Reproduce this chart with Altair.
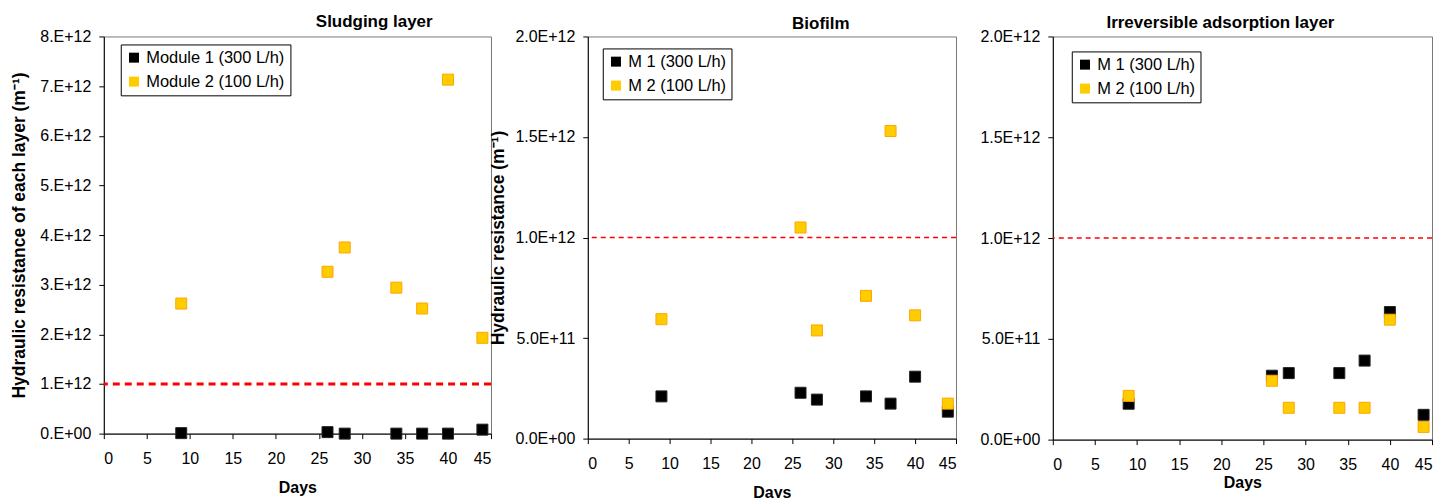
import json
import altair as alt
import pandas as pd

# ---------------- data ----------------
days = [9, 26, 28, 34, 37, 40, 44]

sludge_m1 = [0.01e12, 0.03e12, 0.0, 0.0, 0.0, 0.0, 0.08e12]
sludge_m2 = [2.62e12, 3.26e12, 3.75e12, 2.94e12, 2.52e12, 7.13e12, 1.93e12]

bio_m1 = [2.10e11, 2.28e11, 1.94e11, 2.10e11, 1.74e11, 3.08e11, 1.34e11]
bio_m2 = [5.94e11, 10.5e11, 5.38e11, 7.10e11, 15.3e11, 6.13e11, 1.74e11]

irr_m1 = [1.78e11, 3.17e11, 3.30e11, 3.30e11, 3.92e11, 6.33e11, 1.23e11]
irr_m2 = [2.17e11, 2.92e11, 1.58e11, 1.58e11, 1.58e11, 5.95e11, 0.63e11]

series_long = ["Module 1 (300 L/h)", "Module 2 (100 L/h)"]
series_short = ["M 1 (300 L/h)", "M 2 (100 L/h)"]

threshold = [1e12]

x_ticks = [0, 5, 10, 15, 20, 25, 30, 35, 40, 45]

y1_ticks = [0, 1e12, 2e12, 3e12, 4e12, 5e12, 6e12, 7e12, 8e12]
y1_labels = ["0.E+00", "1.E+12", "2.E+12", "3.E+12", "4.E+12",
             "5.E+12", "6.E+12", "7.E+12", "8.E+12"]
y2_ticks = [0, 5e11, 1e12, 1.5e12, 2e12]
y2_labels = ["0.0E+00", "5.0E+11", "1.0E+12", "1.5E+12", "2.0E+12"]

titles = ["Sludging layer", "Biofilm", "Irreversible adsorption layer"]
y_titles = ["Hydraulic resistance of each layer (m\u207b\u00b9)",
            "Hydraulic resistance (m\u207b\u00b9)", None]

FONT = "Liberation Sans"
FILLS = ["#000000", "#FFCC00"]
STROKES = ["#222222", "#FFA500"]


def label_expr(ticks, labels):
    return f"{json.dumps(labels)}[indexof({json.dumps(ticks)}, datum.value)]"


def panel(m1, m2, names, ymax, yticks, ylabels, title, ytitle, w, h,
          title_dx, title_dy, ytitle_x, xtitle_y, dash, dash_w, leg_x, leg_y):
    df = pd.DataFrame({
        "day": days + days,
        "val": m1 + m2,
        "series": [names[0]] * len(days) + [names[1]] * len(days),
    })
    thr = pd.DataFrame({"t": threshold})

    xaxis = alt.Axis(values=x_ticks, title="Days", grid=False, tickSize=5,
                     labelPadding=12, titleY=xtitle_y, titleBaseline="alphabetic",
                     domainColor="black", tickColor="black", titleFontSize=16)
    yaxis_kw = dict(values=yticks, labelExpr=label_expr(yticks, ylabels),
                    grid=False, tickSize=5, labelPadding=8,
                    domainColor="black", tickColor="black")
    if ytitle:
        yaxis = alt.Axis(title=ytitle, titleX=ytitle_x, titleFontSize=17.5, **yaxis_kw)
    else:
        yaxis = alt.Axis(title=None, **yaxis_kw)

    pts = alt.Chart(df).mark_point(shape="square", filled=True, size=121,
                                   strokeWidth=1, opacity=1).encode(
        x=alt.X("day:Q", scale=alt.Scale(domain=[0, 45], nice=False), axis=xaxis),
        y=alt.Y("val:Q", scale=alt.Scale(domain=[0, ymax], nice=False), axis=yaxis),
        fill=alt.Fill("series:N", scale=alt.Scale(domain=names, range=FILLS),
                      legend=alt.Legend(orient="none", legendX=leg_x, legendY=leg_y,
                                        title=None, strokeColor="black",
                                        fillColor="white", padding=5,
                                        symbolType="square", symbolSize=100,
                                        symbolStrokeWidth=0, labelFontSize=16.5,
                                        labelFont=FONT, rowPadding=7,
                                        labelColor="black", labelOffset=4)),
        stroke=alt.Stroke("series:N", scale=alt.Scale(domain=names, range=STROKES),
                          legend=None),
        order=alt.Order("series:N"),
    )
    rule = alt.Chart(thr).mark_rule(color="#FF0000", strokeDash=dash,
                                    strokeWidth=dash_w).encode(y=alt.Y("t:Q"))
    return alt.layer(rule, pts).properties(
        width=w, height=h,
        title=alt.TitleParams(title, dx=title_dx, dy=title_dy, offset=0, fontSize=17,
                              font=FONT, fontWeight="bold", anchor="middle",
                              color="black"),
    )


p1 = panel(sludge_m1, sludge_m2, series_long, 8e12, y1_ticks, y1_labels,
           titles[0], y_titles[0], 388, 398, 77, 3, -75, 59, [7, 5], 3, 17, 8)
p2 = panel(bio_m1, bio_m2, series_short, 2e12, y2_ticks, y2_labels,
           titles[1], y_titles[1], 369, 403, 49, 5, -80, 59, [5, 4], 1.5, 15, 12)
p3 = panel(irr_m1, irr_m2, series_short, 2e12, y2_ticks, y2_labels,
           titles[2], y_titles[2], 380, 404, -22, 4, 0, 48, [5, 4], 1.5, 19, 15)

chart = alt.hconcat(p1, p2, p3, spacing=97, bounds="flush").resolve_scale(
    fill="independent", stroke="independent").resolve_legend(fill="independent")

chart = chart.properties(
    padding={"left": 2, "top": 4, "right": 5, "bottom": 0},
    background="white",
).configure_view(stroke="#777777", strokeWidth=1).configure_axis(
    labelFont=FONT, labelFontSize=16, labelColor="black",
    titleFont=FONT, titleFontSize=16, titleFontWeight="bold", titleColor="black",
)

chart.save("out.html", embed_options={"renderer": "svg", "actions": False})
